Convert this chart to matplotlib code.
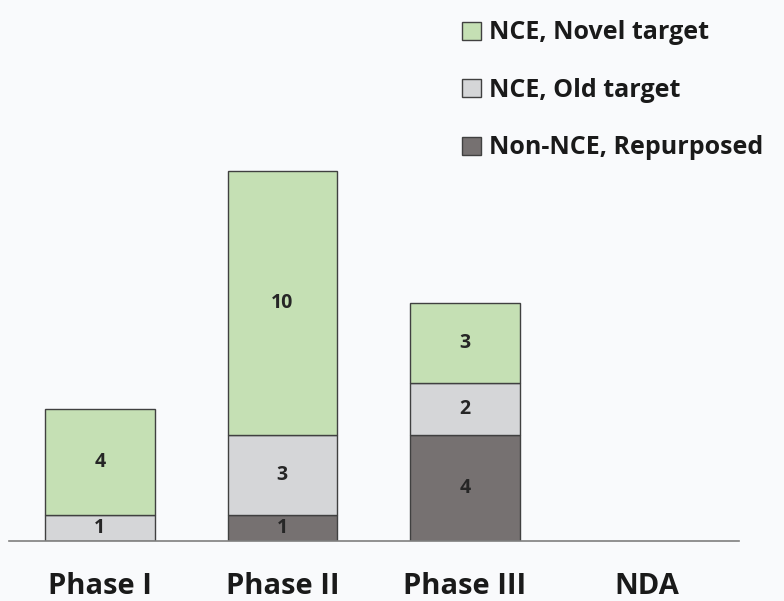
import matplotlib.pyplot as plt
import numpy as np

phases = ["Phase I", "Phase II", "Phase III", "NDA"]
repurposed = [0, 1, 4, 0]
old_target = [1, 3, 2, 0]
novel_target = [4, 10, 3, 0]

c_rep = "#767171"
c_old = "#d5d6d8"
c_nov = "#c5e0b4"
edge = "#404040"
bg = "#f9fafc"

plt.rcParams['font.family'] = ['Open Sans', 'DejaVu Sans']

fig = plt.figure(figsize=(7.84, 6.01), dpi=100, facecolor=bg)
ax = fig.add_axes([0.011, 0.0998, 0.931, 0.8785], facecolor=bg)

x = np.arange(len(phases))
rep = np.array(repurposed)
old = np.array(old_target)
nov = np.array(novel_target)

def lw(vals):
    return [1 if v > 0 else 0 for v in vals]

b1 = ax.bar(x, rep, 0.6, color=c_rep, edgecolor=edge, linewidth=lw(rep), label="Non-NCE, Repurposed")
b2 = ax.bar(x, old, 0.6, bottom=rep, color=c_old, edgecolor=edge, linewidth=lw(old), label="NCE, Old target")
b3 = ax.bar(x, nov, 0.6, bottom=rep + old, color=c_nov, edgecolor=edge, linewidth=lw(nov), label="NCE, Novel target")

# segment labels
for vals, bottoms in [(rep, np.zeros(4)), (old, rep), (nov, rep + old)]:
    for i in range(len(vals)):
        if vals[i] > 0:
            ax.text(x[i], bottoms[i] + vals[i] / 2, str(vals[i]), ha="center", va="center",
                    fontsize=14, fontweight="bold", color="#262626")

ax.set_xlim(-0.5, 3.5)
ax.set_ylim(0, 20)
ax.set_xticks(x)
ax.set_xticklabels(phases, fontsize=21, fontweight="bold", color="#1a1a1a")
ax.tick_params(axis="x", length=0, pad=22)
ax.set_yticks([])
for s in ["top", "right", "left"]:
    ax.spines[s].set_visible(False)
ax.spines["bottom"].set_color("#7f7f7f")
ax.spines["bottom"].set_linewidth(1.2)

lb = [b3, b2, b1]
leg = ax.legend(handles=lb, loc="upper left", bbox_to_anchor=(0.608, 1.005),
                frameon=False, fontsize=18, labelspacing=1.3, handlelength=0.75,
                handleheight=0.75, handletextpad=0.3, borderaxespad=0)
for t in leg.get_texts():
    t.set_fontweight("bold")
    t.set_color("#1a1a1a")
for h in leg.legend_handles:
    h.set_linewidth(1)

fig.savefig("out.png", dpi=100, facecolor=bg)
